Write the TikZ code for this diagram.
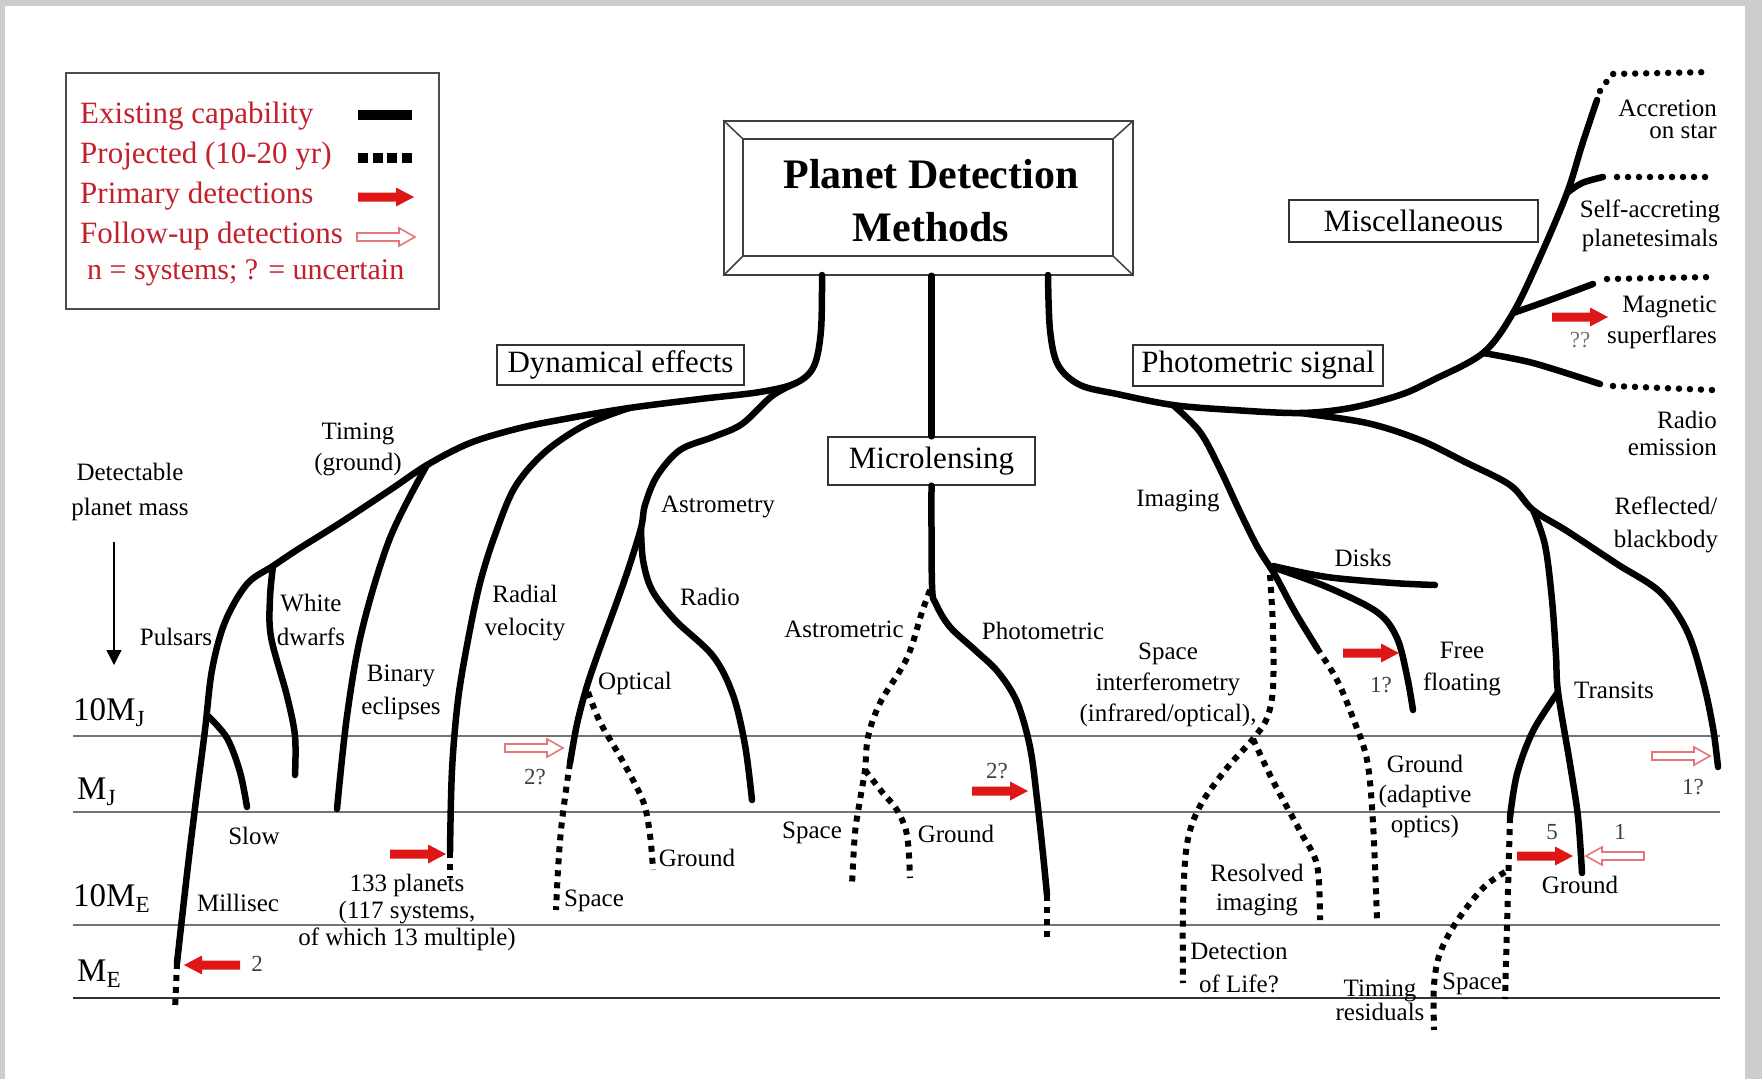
\documentclass[tikz,border=0pt]{standalone}
\usepackage{fontspec}
\setmainfont{Liberation Serif}
\usetikzlibrary{arrows.meta}
\definecolor{legendred}{RGB}{196,32,44}
\definecolor{arrowred}{RGB}{222,22,22}
\definecolor{hollowred}{RGB}{228,120,120}
\definecolor{framegray}{RGB}{205,205,205}

% filled red arrow: tail x, tail y, direction (1 = right, -1 = left)
\newcommand{\redarrow}[3]{\begin{scope}[shift={(#1,#2)},xscale=#3]
  \fill[arrowred] (0,-4.5) -- (38,-4.5) -- (38,-9.5) -- (56,0) -- (38,9.5) -- (38,4.5) -- (0,4.5) -- cycle;
\end{scope}}
% outlined follow-up arrow
\newcommand{\openarrow}[3]{\begin{scope}[shift={(#1,#2)},xscale=#3]
  \draw[hollowred,line width=1.6pt,fill=white,line join=miter] (0,-4) -- (42,-4) -- (42,-9) -- (58,0) -- (42,9) -- (42,4) -- (0,4) -- cycle;
\end{scope}}

\begin{document}
\begin{tikzpicture}[x=1pt,y=-1pt,
  existing/.style={line width=6.5pt, line cap=round, line join=round},
  planned/.style={line width=6pt, dash pattern=on 6pt off 6pt},
  beads/.style={line width=6.5pt, line cap=round, dash pattern=on 0pt off 11pt},
  lbl/.style={font=\fontsize{25}{#1}\selectfont, align=center, inner sep=0pt},
  lbl/.default=30,
  legendtxt/.style={font=\fontsize{31}{33}\selectfont, text=legendred, anchor=west, inner sep=0pt},
  groupbox/.style={draw=black!80, line width=1.4pt, inner sep=0pt, font=\fontsize{31}{33}\selectfont},
  axislbl/.style={font=\fontsize{33}{35}\selectfont, inner sep=0pt, anchor=base west},
  massline/.style={draw=black!55, line width=1.6pt},
  numlbl/.style={font=\fontsize{23}{25}\selectfont, inner sep=0pt, text=black!75}]

% page frame
\fill[framegray] (0,0) rectangle (1762,1079);
\fill[white] (5,6) rectangle (1745,1079);
\useasboundingbox (0,0) rectangle (1762,1079);

% mass levels
\draw[massline] (73,736) -- (1720,736);
\draw[massline] (73,812) -- (1720,812);
\draw[massline] (73,925) -- (1720,925);
\draw[massline, draw=black!80, line width=2.6pt] (73,998) -- (1720,998);
\node[axislbl] (l10mj) at (73,720) {10M\textsubscript{J}};
\node[axislbl] (lmj) at (77,799) {M\textsubscript{J}};
\node[axislbl] (l10me) at (73,906) {10M\textsubscript{E}};
\node[axislbl] (lme) at (77,981) {M\textsubscript{E}};

% mass axis
\node[lbl=35] (detect) at (130,492) {Detectable\\planet mass};
\coordinate (axtop) at (114,542);
\coordinate (axbot) at (114,665);
\draw[line width=1.3pt, -{Triangle[length=15pt,width=15pt]}] (axtop) -- (axbot);

% legend
\node[draw=black!70, line width=1.5pt, minimum width=373, minimum height=236, inner sep=0pt, anchor=north west] (legend) at (65,72) {};
\node[legendtxt] (k1) at (80,116) {Existing capability};
\node[legendtxt] (k2) at (80,156) {Projected (10-20 yr)};
\node[legendtxt] (k3) at (80,196) {Primary detections};
\node[legendtxt] (k4) at (80,236) {Follow-up detections};
\node[legendtxt, font=\fontsize{30}{32}\selectfont] (k5) at (87,273) {n = systems; ? = uncertain};
\draw[line width=10pt] (358,115) -- (412,115);
\draw[line width=10pt, dash pattern=on 10pt off 4.5pt] (358,158) -- (412,158);
\redarrow{358}{197}{1}
\openarrow{357}{237}{1}

% title
\node[draw=black!75, line width=1.5pt, minimum width=409, minimum height=154, inner sep=0pt] (title) at (928.5,198) {};
\draw[black!75, line width=1.5pt] (743,139) rectangle (1113,256);
\draw[black!75, line width=1.5pt] (title.north west) -- (743,139) (title.north east) -- (1113,139)
  (title.south west) -- (743,256) (title.south east) -- (1113,256);
\node[font=\bfseries\fontsize{42}{53}\selectfont, align=center, inner sep=0pt] (titletext) at (931,201) {Planet Detection\\Methods};

% group boxes
\node[groupbox, minimum width=247, minimum height=40] (dyn) at (620.5,365) {Dynamical effects};
\node[groupbox, minimum width=207, minimum height=48] (micro) at (931.5,461) {Microlensing};
\node[groupbox, minimum width=250, minimum height=41] (phot) at (1258,365.5) {Photometric signal};
\node[groupbox, minimum width=249, minimum height=42] (misc) at (1413.5,221) {Miscellaneous};

% ---------------- dynamical effects ----------------
\coordinate (stemL) at (822,275);
\coordinate (rvroot) at (629,408);
\coordinate (timing) at (427,465);
\coordinate (wd) at (273,566);
\coordinate (slowroot) at (208,716);
\coordinate (pulsarend) at (177,963);
\coordinate (astfork) at (641,528);
\coordinate (optend) at (570,763);
\coordinate (rvend) at (450,852);

\draw[existing] plot[smooth, tension=0.55] coordinates {(stemL) (821,330) (814,366) (796,383) (760,392) (700,399) (rvroot) (570,418) (520,428) (470,443) (timing) (390,490) (340,523) (300,548) (wd) (247,584) (225,622) (212,670) (205,730) (196,800) (187,874) (pulsarend)};
\draw[planned] (pulsarend) -- (175,1010);
\draw[existing] plot[smooth, tension=0.55] coordinates {(slowroot) (227,738) (240,772) (247,807)};
\draw[existing] plot[smooth, tension=0.55] coordinates {(wd) (270,598) (271,637) (287,696) (295,736) (295,775)};
\draw[existing] plot[smooth, tension=0.55] coordinates {(timing) (390,538) (362,630) (347,716) (337,809)};
\draw[existing] plot[smooth, tension=0.55] coordinates {(rvroot) (585,425) (545,452) (515,487) (495,535) (480,583) (468,640) (458,700) (452,770) (rvend)};
\draw[planned] (rvend) -- (450,878);
\draw[existing] plot[smooth, tension=0.55] coordinates {(796,383) (772,396) (742,424) (713,437) (680,450) (657,476) (645,505) (astfork) (628,570) (615,607) (600,648) (587,686) (577,724) (optend)};
\draw[existing] plot[smooth, tension=0.55] coordinates {(astfork) (643,560) (652,590) (675,620) (713,656) (733,695) (745,745) (752,800)};
\draw[planned] plot[smooth, tension=0.55] coordinates {(optend) (566,790) (561,830) (558,870) (556,910)};
\draw[planned] plot[smooth, tension=0.55] coordinates {(588,692) (600,722) (622,760) (643,801) (650,835) (653,870)};

\node[lbl=31] (ltiming) at (358,449) {Timing\\(ground)};
\node[lbl] (lpulsar) at (176,637) {Pulsars};
\node[lbl=34] (lwd) at (311,620) {White\\dwarfs};
\node[lbl=33] (lbin) at (401,692) {Binary\\eclipses};
\node[lbl=33] (lrv) at (525,613) {Radial\\velocity};
\node[lbl] (lslow) at (254,836) {Slow};
\node[lbl] (lmilli) at (238,903) {Millisec};
\node[lbl=27] (lrvcount) at (407,912) {133 planets\\(117 systems,\\of which 13 multiple)};
\node[lbl] (lastro) at (718,507) {Astrometry};
\node[lbl] (lradio) at (710,597) {Radio};
\node[lbl] (lopt) at (635,683) {Optical};
\node[lbl] (lspace1) at (594,901) {Space};
\node[lbl] (lground1) at (697,858) {Ground};
\node[numlbl] (q1) at (535,777) {2?};
\node[numlbl] (n2) at (257,964) {2};
\redarrow{240}{965}{-1}
\redarrow{390}{854}{1}
\openarrow{505}{748}{1}

% ---------------- microlensing ----------------
\coordinate (mlfork) at (932,585);
\coordinate (photend) at (1047,895);
\coordinate (astrofork) at (865,770);
\draw[existing] (title.south -| micro.north) -- (micro.north);
\draw[existing] plot[smooth, tension=0.55] coordinates {(micro.south) (mlfork) (936,604) (950,627) (975,650) (998,672) (1017,702) (1030,747) (1037,799) (1043,854) (photend)};
\draw[planned] (photend) -- (1047,937);
\draw[planned] plot[smooth, tension=0.55] coordinates {(930,590) (922,612) (907,658) (880,703) (868,737) (astrofork) (860,800) (855,833) (852,885)};
\draw[planned] plot[smooth, tension=0.55] coordinates {(astrofork) (882,792) (897,810) (907,835) (910,878)};
\node[lbl] (lastrom) at (844,629) {Astrometric};
\node[lbl] (lphotom) at (1043,631) {Photometric};
\node[lbl] (lspace2) at (812,833) {Space};
\node[lbl] (lground2) at (956,834) {Ground};
\node[numlbl] (q2) at (997,771) {2?};
\redarrow{972}{791}{1}

% ---------------- photometric signal ----------------
\coordinate (stemR) at (1048,275);
\coordinate (imgroot) at (1173,405);
\coordinate (reflroot) at (1300,413);
\coordinate (radioroot) at (1483,353);
\coordinate (magroot) at (1513,313);
\coordinate (selfroot) at (1567,193);
\coordinate (accend) at (1597,100);
\coordinate (transroot) at (1533,510);
\coordinate (transfork) at (1558,692);
\coordinate (spaceend) at (1510,817);
\coordinate (diskroot) at (1273,566);
\coordinate (aoend) at (1317,648);
\coordinate (sifork) at (1253,739);

\draw[existing] plot[smooth, tension=0.55] coordinates {(stemR) (1050,330) (1058,365) (1080,385) (1117,394) (imgroot) (1233,410) (reflroot) (1350,408) (1400,395) (1433,380) (radioroot) (magroot) (1540,257) (selfroot) (1582,145) (accend)};
\draw[existing] plot[smooth, tension=0.55] coordinates {(reflroot) (1367,423) (1420,440) (1465,462) (1510,485) (transroot) (1567,531) (1617,564) (1660,592) (1687,631) (1703,681) (1713,728) (1718,767)};
\draw[existing] plot[smooth, tension=0.55] coordinates {(transroot) (1545,545) (1552,600) (1556,656) (transfork) (1570,764) (1578,817) (1582,873)};
\draw[existing] plot[smooth, tension=0.55] coordinates {(transfork) (1533,731) (1517,774) (spaceend)};
\draw[planned] (spaceend) -- (1505,999);
\draw[planned] plot[smooth, tension=0.55] coordinates {(1505,872) (1483,888) (1457,921) (1440,953) (1434,985) (1434,1030)};

\draw[existing] plot[smooth, tension=0.55] coordinates {(imgroot) (1200,432) (1220,469) (1240,512) (1258,548) (1275,575) (1295,612) (aoend)};
\draw[existing] plot[smooth, tension=0.55] coordinates {(diskroot) (1327,577) (1393,583) (1435,585)};
\draw[existing] plot[smooth, tension=0.55] coordinates {(1275,568) (1327,587) (1377,612) (1397,638) (1407,676) (1413,710)};
\draw[planned] plot[smooth, tension=0.55] coordinates {(aoend) (1337,680) (1353,718) (1367,760) (1373,823) (1377,920)};
\draw[planned] plot[smooth, tension=0.55] coordinates {(1270,575) (1273,629) (1273,688) (1267,718) (sifork) (1227,768) (1200,806) (1187,844) (1183,907) (1183,983)};
\draw[planned] plot[smooth, tension=0.55] coordinates {(sifork) (1273,781) (1300,831) (1317,865) (1320,920)};

% miscellaneous branches
\draw[existing] plot[smooth, tension=0.55] coordinates {(selfroot) (1582,183) (1603,177)};
\draw[existing] plot[smooth, tension=0.55] coordinates {(magroot) (1550,300) (1593,284)};
\draw[existing] plot[smooth, tension=0.55] coordinates {(radioroot) (1533,363) (1600,384)};
\draw[beads] (1600,91) -- (1612,74) -- (1712,72);
\draw[beads] (1617,177) -- (1712,177);
\draw[beads] (1607,279) -- (1713,277);
\draw[beads] (1613,386) -- (1712,390);

\node[lbl=22, align=right, anchor=east] (lacc) at (1717,119) {Accretion\\on star};
\node[lbl=29] (lself) at (1650,226) {Self-accreting\\planetesimals};
\node[lbl=31, align=right, anchor=east] (lmag) at (1717,322) {Magnetic\\superflares};
\node[lbl=27, align=right, anchor=east] (lremit) at (1717,433) {Radio\\emission};
\node[numlbl, text=black!55] (q3) at (1580,340) {??};
\redarrow{1552}{317}{1}

\node[lbl] (limg) at (1178,501) {Imaging};
\node[lbl] (ldisk) at (1363,558) {Disks};
\node[lbl=31] (lsi) at (1168,685) {Space\\interferometry\\(infrared/optical),};
\node[lbl=32] (lfree) at (1462,669) {Free\\floating};
\node[numlbl] (q4) at (1381,685) {1?};
\node[lbl=30] (lao) at (1425,796) {Ground\\(adaptive\\optics)};
\node[lbl=29] (lres) at (1257,890) {Resolved\\imaging};
\node[lbl=33] (llife) at (1239,968) {Detection\\of Life?};
\node[lbl=24] (lresid) at (1380,1000) {Timing\\residuals};
\node[lbl] (lspace3) at (1472,984) {Space};
\node[lbl=33] (lrefl) at (1666,525) {Reflected/\\blackbody};
\node[lbl] (ltrans) at (1614,690) {Transits};
\node[lbl] (lground3) at (1580,885) {Ground};
\node[numlbl] (n5) at (1552,832) {5};
\node[numlbl] (n1) at (1620,832) {1};
\node[numlbl] (q5) at (1693,787) {1?};
\redarrow{1343}{653}{1}
\redarrow{1517}{856}{1}
\openarrow{1644}{856}{-1}
\openarrow{1652}{756}{1}

\end{tikzpicture}
\end{document}
